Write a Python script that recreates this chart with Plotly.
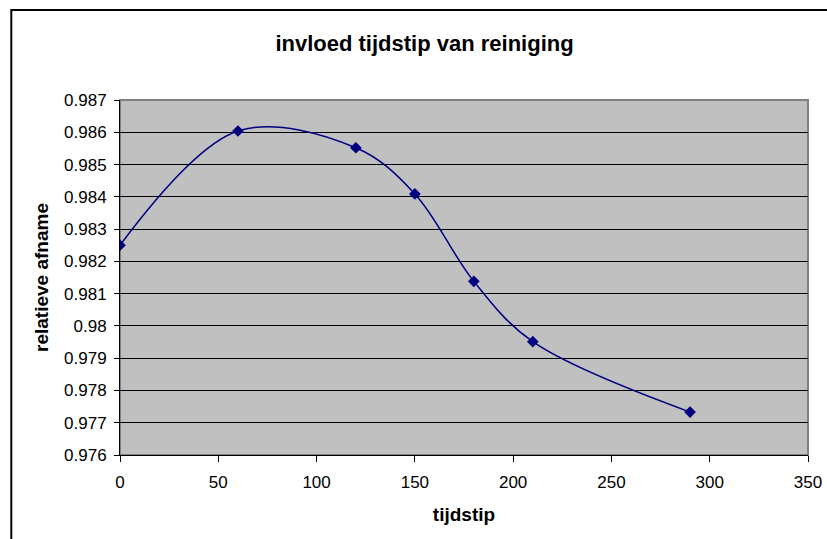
import plotly.graph_objects as go

# Measurements: relative decrease versus cleaning moment
tijdstip = [0, 60, 120, 150, 180, 210, 290]
relatieve_afname = [0.98250, 0.98604, 0.98552, 0.98409, 0.98138, 0.97951, 0.97733]

y_tick_vals = [0.976, 0.977, 0.978, 0.979, 0.980, 0.981, 0.982, 0.983, 0.984, 0.985, 0.986, 0.987]
y_tick_text = ["0.976", "0.977", "0.978", "0.979", "0.98", "0.981", "0.982", "0.983", "0.984", "0.985", "0.986", "0.987"]
x_tick_vals = [0, 50, 100, 150, 200, 250, 300, 350]

FONT = "Liberation Sans, Arial, sans-serif"
NAVY = "#000080"

fig = go.Figure()
fig.add_trace(go.Scatter(
    x=tijdstip,
    y=relatieve_afname,
    mode="lines+markers",
    line=dict(color=NAVY, width=1.5, shape="spline", smoothing=1.0),
    marker=dict(symbol="diamond", size=9, color=NAVY),
    showlegend=False,
))

# plot-area frame (grey on top/right, axes draw the black left/bottom edges)
fig.add_shape(type="rect", xref="paper", yref="paper", x0=0, y0=0, x1=1, y1=1,
              line=dict(color="#808080", width=2), layer="below")
# outer chart border
fig.add_shape(type="rect", xref="paper", yref="paper",
              x0=-0.158, y0=-0.3, x1=1.08, y1=1.2535,
              line=dict(color="#000000", width=2), layer="above")

fig.update_layout(
    width=827, height=539,
    autosize=False,
    margin=dict(l=120, r=19, t=100, b=84, autoexpand=False),
    paper_bgcolor="white",
    plot_bgcolor="#C0C0C0",
    font=dict(family=FONT, size=17, color="black"),
    title=dict(text="<b>invloed tijdstip van reiniging</b>", x=424.5 / 827, xanchor="center",
               y=1 - 43 / 539, yanchor="middle", font=dict(size=22, family=FONT, color="black")),
    xaxis=dict(
        range=[0, 350], tickvals=x_tick_vals, showgrid=False, zeroline=False,
        showline=True, linecolor="black", linewidth=1, automargin=False,
        ticks="outside", ticklen=6, tickcolor="black",
        ticklabelstandoff=6,
        title=dict(text="<b>tijdstip</b>", font=dict(size=19), standoff=16),
    ),
    yaxis=dict(
        range=[0.976, 0.987], tickvals=y_tick_vals, ticktext=y_tick_text,
        showgrid=True, gridcolor="#000000", gridwidth=1, zeroline=False,
        showline=True, linecolor="black", linewidth=1, automargin=False,
        ticks="outside", ticklen=5, tickcolor="black",
        ticklabelstandoff=4,
        title=dict(text="<b>relatieve afname</b>", font=dict(size=19), standoff=10),
    ),
)

fig.write_html("out.html")
